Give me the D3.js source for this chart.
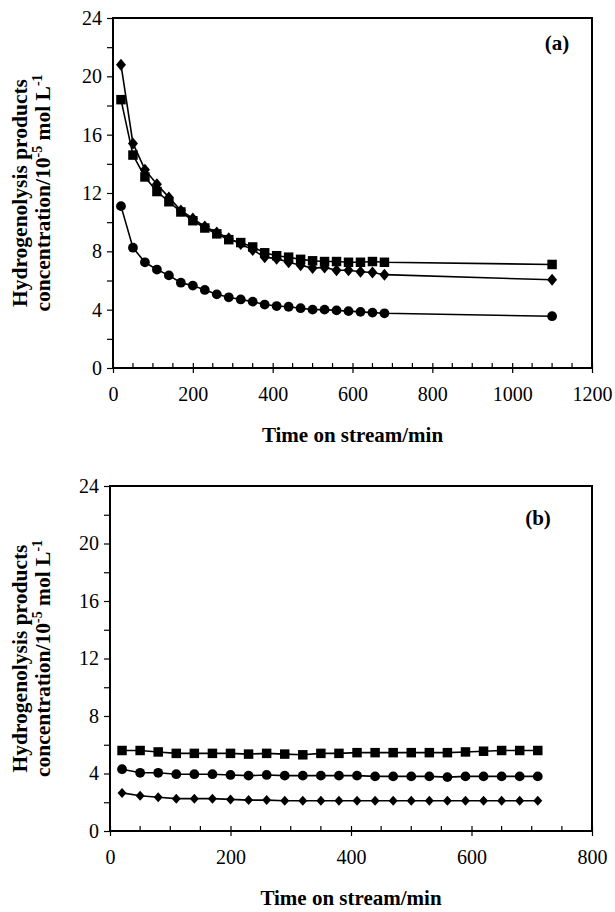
<!DOCTYPE html>
<html>
<head>
<meta charset="utf-8">
<script src="https://cdn.jsdelivr.net/npm/d3@7"></script>
<style>
  body { margin: 0; background: #fff; }
  svg text { font-family: "Liberation Serif", "Times New Roman", serif; fill: #000; }
</style>
</head>
<body>
<svg id="chart"></svg>
<script>
// Panel (a) data
const timesA = [20, 50, 80, 110, 140, 170, 200, 230, 260, 290, 320, 350, 380, 410, 440, 470, 500, 530, 560, 590, 620, 650, 680, 1100];
const squaresA = [18.4, 14.6, 13.1, 12.1, 11.4, 10.7, 10.1, 9.6, 9.2, 8.8, 8.6, 8.3, 7.9, 7.7, 7.6, 7.45, 7.35, 7.3, 7.3, 7.25, 7.25, 7.3, 7.25, 7.1];
const diamondsA = [20.8, 15.4, 13.6, 12.6, 11.7, 10.8, 10.25, 9.7, 9.3, 8.9, 8.5, 8.1, 7.6, 7.5, 7.25, 7.05, 6.85, 6.9, 6.7, 6.7, 6.6, 6.55, 6.4, 6.05];
const circlesA = [11.1, 8.25, 7.25, 6.75, 6.35, 5.85, 5.65, 5.35, 5.05, 4.85, 4.7, 4.55, 4.35, 4.25, 4.2, 4.1, 4.0, 4.0, 3.95, 3.9, 3.85, 3.8, 3.75, 3.55];

// Panel (b) data
const timesB = [20, 50, 80, 110, 140, 170, 200, 230, 260, 290, 320, 350, 380, 410, 440, 470, 500, 530, 560, 590, 620, 650, 680, 710];
const squaresB = [5.6, 5.6, 5.5, 5.4, 5.4, 5.4, 5.4, 5.35, 5.4, 5.35, 5.3, 5.4, 5.4, 5.45, 5.45, 5.45, 5.45, 5.45, 5.45, 5.5, 5.55, 5.6, 5.6, 5.6];
const circlesB = [4.3, 4.05, 4.05, 3.95, 3.95, 3.95, 3.9, 3.85, 3.9, 3.85, 3.85, 3.85, 3.85, 3.85, 3.8, 3.8, 3.8, 3.8, 3.75, 3.8, 3.8, 3.8, 3.8, 3.8];
const diamondsB = [2.65, 2.45, 2.35, 2.25, 2.25, 2.25, 2.2, 2.15, 2.15, 2.1, 2.1, 2.1, 2.1, 2.1, 2.1, 2.1, 2.1, 2.1, 2.1, 2.1, 2.1, 2.1, 2.1, 2.1];

// Axis ticks
const yTicks = [0, 4, 8, 12, 16, 20, 24];
const xTicksA = [0, 200, 400, 600, 800, 1000, 1200];
const xTicksB = [0, 200, 400, 600, 800];

const width = 615;
const height = 912;

const svg = d3.select("#chart")
  .attr("width", width)
  .attr("height", height);

// Diamond path (square rotated by 45 degrees)
function diamondPath(w, h) {
  return `M0,${-h}L${w},0L0,${h}L${-w},0Z`;
}

function drawPanel(cfg) {
  const x = d3.scaleLinear().domain([0, cfg.xMax]).range([cfg.left, cfg.right]);
  const y = d3.scaleLinear().domain([0, 24]).range([cfg.bottom, cfg.top]);
  const g = svg.append("g");

  // Frame
  g.append("rect")
    .attr("x", cfg.left)
    .attr("y", cfg.top)
    .attr("width", cfg.right - cfg.left)
    .attr("height", cfg.bottom - cfg.top)
    .attr("fill", "none")
    .attr("stroke", "#000")
    .attr("stroke-width", 2);

  // Y axis: ticks every 2, labels every 4
  const yAxis = d3.axisLeft(y)
    .tickValues(d3.range(0, 25, 2))
    .tickSize(6)
    .tickPadding(5)
    .tickFormat(d => yTicks.includes(d) ? d : "");
  g.append("g")
    .attr("transform", `translate(${cfg.left},0)`)
    .call(yAxis)
    .call(a => a.select(".domain").remove())
    .call(a => a.selectAll("line").attr("stroke-width", 1.2))
    .call(a => a.selectAll("text").style("font-size", "20px"));

  // X axis: minor ticks inside, major ticks crossing
  const minor = d3.range(0, cfg.xMax + 1, 50).filter(d => !cfg.xTicks.includes(d));
  g.append("g")
    .selectAll("line")
    .data(minor)
    .join("line")
    .attr("x1", d => x(d)).attr("x2", d => x(d))
    .attr("y1", cfg.bottom).attr("y2", cfg.bottom - 5)
    .attr("stroke", "#000").attr("stroke-width", 1.2);

  const xAxis = d3.axisBottom(x)
    .tickValues(cfg.xTicks)
    .tickFormat(d3.format("d"))
    .tickSizeInner(5)
    .tickSizeOuter(0)
    .tickPadding(14);
  g.append("g")
    .attr("transform", `translate(0,${cfg.bottom})`)
    .call(xAxis)
    .call(a => a.select(".domain").remove())
    .call(a => a.selectAll("line").attr("y1", -5).attr("stroke-width", 1.2))
    .call(a => a.selectAll("text").style("font-size", "20px"));

  // Series
  const series = [
    { vals: cfg.squares, shape: "square" },
    { vals: cfg.diamonds, shape: "diamond" },
    { vals: cfg.circles, shape: "circle" }
  ];
  const line = d3.line().x(d => x(d.t)).y(d => y(d.v));

  series.forEach(s => {
    const pts = cfg.times.map((t, i) => ({ t: t, v: s.vals[i] }));
    g.append("path")
      .datum(pts)
      .attr("d", line)
      .attr("fill", "none")
      .attr("stroke", "#000")
      .attr("stroke-width", 1.6);

    const marks = g.append("g").selectAll("path")
      .data(pts)
      .join("path")
      .attr("transform", d => `translate(${x(d.t)},${y(d.v)})`)
      .attr("fill", "#000");
    if (s.shape === "square") {
      marks.attr("d", d3.symbol(d3.symbolSquare, 90));
    } else if (s.shape === "circle") {
      marks.attr("d", d3.symbol(d3.symbolCircle, 75));
    } else {
      marks.attr("d", diamondPath(cfg.dw, cfg.dh));
    }
  });

  // Panel label
  g.append("text")
    .attr("x", cfg.labelX)
    .attr("y", cfg.labelY)
    .attr("text-anchor", "middle")
    .style("font-size", "21px")
    .style("font-weight", "bold")
    .text(cfg.label);

  // X axis title
  g.append("text")
    .attr("x", (cfg.left + cfg.right) / 2)
    .attr("y", cfg.bottom + 74)
    .attr("text-anchor", "middle")
    .style("font-size", "21px")
    .style("font-weight", "bold")
    .text("Time on stream/min");

  // Y axis title, two lines
  const cy = (cfg.top + cfg.bottom) / 2;
  g.append("text")
    .attr("transform", `translate(27,${cy}) rotate(-90)`)
    .attr("text-anchor", "middle")
    .style("font-size", "21.5px")
    .style("font-weight", "bold")
    .text("Hydrogenolysis products");

  const t2 = g.append("text")
    .attr("transform", `translate(50,${cy}) rotate(-90)`)
    .attr("text-anchor", "middle")
    .style("font-size", "21.5px")
    .style("font-weight", "bold");
  t2.append("tspan").text("concentration/10");
  t2.append("tspan").attr("dy", -8).style("font-size", "14px").text("-5");
  t2.append("tspan").attr("dy", 8).text(" mol L");
  t2.append("tspan").attr("dy", -8).style("font-size", "14px").text("-1");
}

drawPanel({
  left: 113, right: 592, top: 18, bottom: 368, xMax: 1200,
  xTicks: xTicksA, times: timesA,
  squares: squaresA, diamonds: diamondsA, circles: circlesA,
  dw: 5, dh: 6,
  label: "(a)", labelX: 557, labelY: 50
});

drawPanel({
  left: 110, right: 592, top: 486, bottom: 831, xMax: 800,
  xTicks: xTicksB, times: timesB,
  squares: squaresB, diamonds: diamondsB, circles: circlesB,
  dw: 4.5, dh: 5,
  label: "(b)", labelX: 538, labelY: 525
});
</script>
</body>
</html>
